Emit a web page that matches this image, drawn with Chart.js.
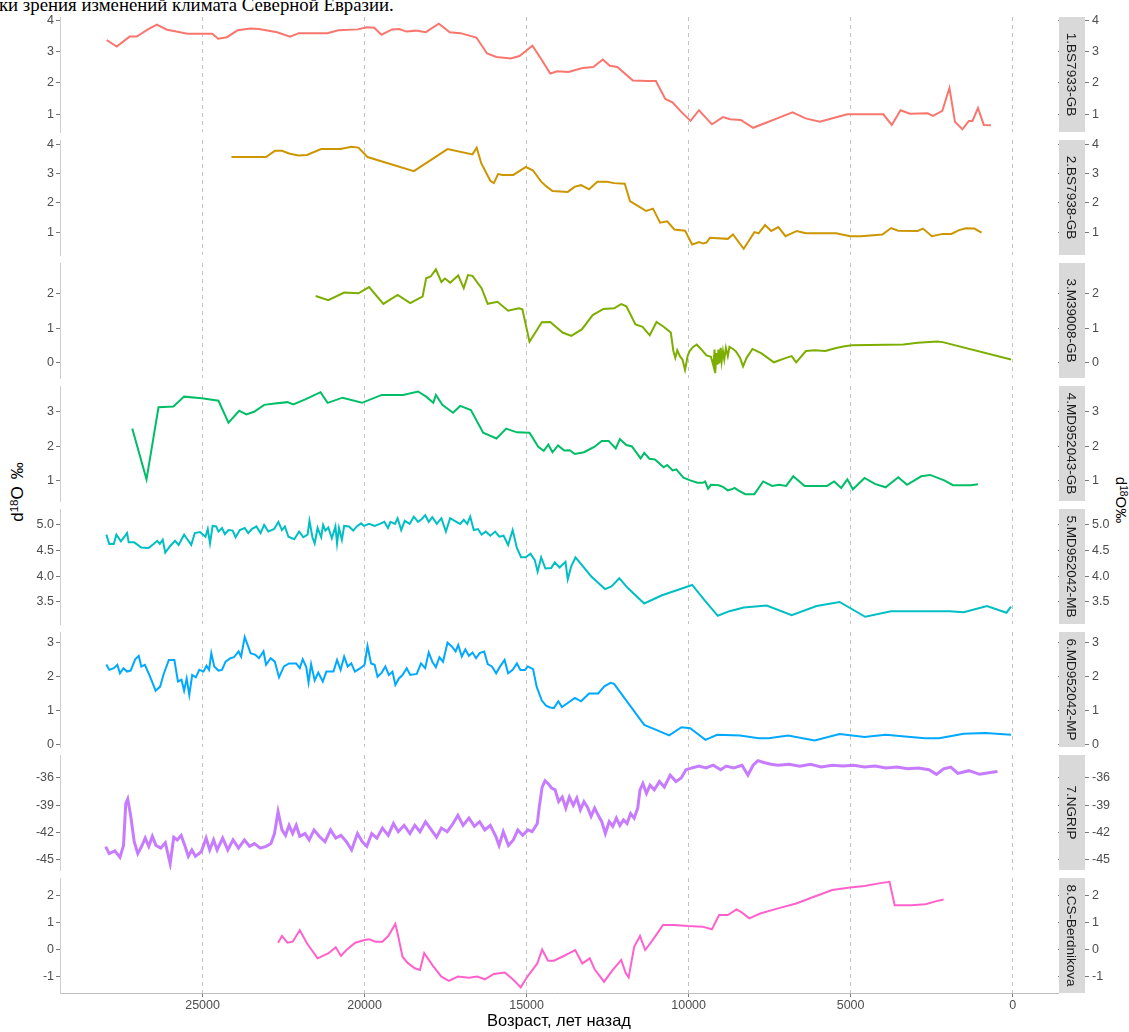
<!DOCTYPE html>
<html>
<head>
<meta charset="utf-8">
<script src="https://cdn.jsdelivr.net/npm/chart.js@4.4.1/dist/chart.umd.min.js"></script>
<style>
  html, body { margin: 0; padding: 0; background: #fff; }
  body { width: 1129px; height: 1032px; overflow: hidden; position: relative; }
  canvas.panel { position: absolute; left: 0; }
  #caption {
    position: absolute; left: -1px; top: -4px;
    font-family: "Liberation Serif", "Times New Roman", serif;
    font-size: 18.8px; line-height: 18.8px; white-space: nowrap; color: #000;
  }
  .ytitle {
    position: absolute; white-space: nowrap; color: #000;
    font-family: "Liberation Sans", Arial, sans-serif; line-height: 1;
  }
  .ytitle sup { font-size: 0.68em; vertical-align: 0.42em; line-height: 0; }
  #ytl { font-size: 17px; left: 17px; top: 492px; transform: translate(-50%, -50%) rotate(-90deg); }
  #ytl .gap { display: inline-block; width: 7px; }
  #ytr { font-size: 15px; left: 1121px; top: 500px; transform: translate(-50%, -50%) rotate(90deg); }
</style>
</head>
<body>
<div id="caption">ки зрения изменений климата Северной Евразии.</div>
<div class="ytitle" id="ytl">d<sup>18</sup>O<span class="gap"></span>‰</div>
<div class="ytitle" id="ytr">d<sup>18</sup>O‰</div>

<script>
// ---- Records: age (years before present) and d18O (‰) ----
const bs7933Age = [27960,27650,27250,27030,26700,26410,26100,25810,25470,24700,24520,24250,23920,23520,23260,22700,22300,22030,21150,20810,20210,19930,19700,19480,19150,18930,18710,18420,18110,17710,17370,17040,16550,16220,15930,15490,15220,14820,14560,14270,14050,13710,13270,12940,12650,12430,12200,11720,11270,11010,10720,10500,10210,9940,9680,9280,8940,8720,8390,8010,7610,7170,6790,6390,5950,5500,5100,3990,3730,3460,3170,2620,2460,2170,1950,1780,1550,1350,1240,1070,890,670];
const bs7933Val = [3.37,3.16,3.48,3.48,3.70,3.86,3.70,3.64,3.57,3.57,3.41,3.46,3.68,3.74,3.72,3.62,3.48,3.59,3.59,3.68,3.71,3.78,3.76,3.54,3.71,3.72,3.64,3.67,3.62,3.89,3.62,3.59,3.45,2.94,2.83,2.78,2.86,3.19,2.78,2.30,2.37,2.35,2.48,2.51,2.75,2.55,2.51,2.08,2.06,2.06,1.49,1.38,1.06,0.79,1.13,0.68,0.91,0.84,0.82,0.57,0.73,0.91,1.06,0.87,0.76,0.89,1.00,1.00,0.66,1.13,1.02,1.03,0.95,1.11,1.84,0.76,0.52,0.79,0.79,1.20,0.66,0.65];

const bs7938Age = [24110,23040,22770,22550,22330,22050,21780,21340,20740,20410,20190,19910,18480,17440,16670,16540,16400,16120,16010,15880,15740,15410,15020,14800,14550,14380,14200,13730,13510,13320,13070,12820,12520,12300,11970,11810,11530,11310,11100,10880,10660,10440,10110,9890,9670,9560,9450,9340,8790,8630,8300,7970,7840,7640,7450,7230,7010,6660,6380,5450,5010,4680,4020,3750,3530,2930,2770,2490,2160,1890,1670,1450,1180,960];
const bs7938Val = [3.56,3.56,3.77,3.77,3.68,3.61,3.63,3.83,3.83,3.91,3.88,3.56,3.08,3.83,3.65,3.88,3.35,2.75,2.67,2.98,2.95,2.95,3.22,3.10,2.72,2.55,2.40,2.37,2.55,2.60,2.46,2.72,2.72,2.67,2.65,2.06,1.87,1.72,1.80,1.32,1.37,1.09,1.05,0.58,0.66,0.61,0.64,0.81,0.77,0.92,0.43,1.00,0.96,1.24,1.04,1.17,0.86,1.04,0.96,0.96,0.86,0.86,0.92,1.14,1.05,1.04,1.12,0.86,0.94,0.94,1.06,1.13,1.12,0.98];

const m39008Age = [21510,21120,20630,20190,19860,19420,18980,18590,18320,18210,18100,17960,17800,17630,17520,17360,17110,16940,16810,16670,16390,16200,15900,15570,15240,15130,14910,14530,14270,13890,13620,13290,12960,12630,12300,12080,11920,11640,11420,11200,10990,10770,10550,10470,10410,10350,10270,10190,10110,10030,9970,9860,9750,9620,9450,9310,9230,9200,9180,9140,9110,9080,9050,9010,8980,8940,8900,8850,8790,8740,8630,8540,8410,8320,8210,8030,7750,7370,6990,6820,6680,6380,6110,5780,5450,5180,4960,3370,2930,2330,2160,50];
const m39008Val = [1.94,1.82,2.04,2.02,2.20,1.71,1.97,1.73,1.87,1.92,2.46,2.51,2.72,2.35,2.45,2.33,2.54,2.17,2.55,2.53,2.17,1.71,1.77,1.51,1.58,1.55,0.60,1.17,1.18,0.87,0.77,0.97,1.38,1.56,1.58,1.70,1.64,1.11,1.04,0.79,1.18,1.04,0.87,0.33,0.13,0.35,0.18,0.08,-0.22,0.18,0.33,0.45,0.52,0.39,0.20,0.16,-0.12,0.37,-0.32,0.27,-0.07,0.37,-0.03,0.42,0.03,0.32,0.08,0.42,0.18,0.45,0.39,0.32,0.13,-0.12,0.13,0.39,0.26,0.00,0.13,0.18,0.00,0.33,0.35,0.33,0.42,0.47,0.50,0.52,0.57,0.61,0.59,0.08];

const md952043Age = [27170,26730,26360,25900,25570,25020,24510,24200,23870,23650,23410,23100,22770,22380,22200,21830,21360,21140,20680,20080,19470,18810,18350,18100,17880,17800,17600,17270,17050,16720,16340,15930,15630,15300,14910,14640,14470,14330,14200,14030,13840,13670,13510,13230,12900,12680,12470,12250,12120,11920,11750,11480,11370,11210,11040,10770,10660,10490,10380,10160,9950,9730,9560,9490,9400,9310,9070,8940,8790,8680,8580,8470,8250,7970,7700,7420,7210,6990,6770,6420,5730,5510,5290,5100,4930,4570,4250,3920,3530,3260,2820,2550,2110,1840,1290,1070];
const md952043Val = [2.51,1.03,3.13,3.15,3.44,3.39,3.32,2.68,3.03,2.92,3.00,3.20,3.24,3.28,3.21,3.36,3.57,3.26,3.41,3.26,3.49,3.49,3.59,3.44,3.26,3.49,3.20,2.97,3.17,3.05,2.39,2.22,2.51,2.40,2.39,1.98,1.86,2.04,1.82,2.02,1.87,1.88,1.77,1.82,1.98,2.15,2.15,1.93,2.20,2.03,1.99,1.64,1.80,1.63,1.61,1.38,1.45,1.29,1.32,1.08,1.00,0.93,0.93,0.97,0.76,0.87,0.86,0.81,0.71,0.74,0.78,0.71,0.60,0.60,0.97,0.84,0.87,0.84,1.12,0.84,0.84,0.97,0.78,1.03,0.74,1.07,0.90,0.80,1.09,0.87,1.12,1.16,1.00,0.86,0.86,0.89];

const md952042mbAge = [27970,27880,27740,27660,27520,27410,27330,27280,27110,26890,26670,26510,26400,26320,26230,26150,26010,25850,25740,25570,25460,25350,25240,25080,24910,24840,24770,24690,24580,24510,24400,24310,24200,24070,23980,23850,23700,23590,23480,23340,23210,23100,22970,22790,22660,22550,22460,22350,22170,22020,21890,21760,21700,21610,21540,21450,21340,21280,21210,21120,21010,20900,20850,20790,20700,20630,20480,20350,20240,20110,20020,19860,19690,19530,19390,19280,19200,19060,18980,18870,18760,18610,18480,18350,18240,18130,18020,17910,17770,17630,17490,17360,17220,17050,16940,16830,16740,16630,16500,16390,16260,16120,15970,15840,15710,15570,15430,15300,15170,15030,14880,14750,14660,14550,14420,14240,14130,13980,13800,13730,13620,13490,13010,12580,12380,12140,11860,11370,10820,9890,9530,9100,8740,8300,7590,6820,6050,5340,4550,3750,1950,1510,790,190,50];
const md952042mbVal = [4.81,4.63,4.63,4.81,4.68,4.77,4.84,4.66,4.66,4.56,4.55,4.63,4.69,4.63,4.71,4.46,4.58,4.69,4.61,4.81,4.71,4.61,4.84,4.86,4.77,4.92,4.64,4.98,4.97,4.87,4.94,4.82,4.90,4.89,4.76,4.90,4.94,4.84,4.92,4.97,4.84,5.00,4.87,4.92,5.06,4.90,4.97,4.77,4.72,4.87,4.76,4.81,5.08,4.76,4.64,4.94,4.76,5.00,4.89,4.95,4.74,4.97,4.64,4.94,4.71,4.98,4.97,4.89,4.97,5.03,4.98,5.02,4.98,5.02,5.06,4.94,5.06,5.02,5.13,4.90,5.08,5.02,5.16,5.06,5.11,5.19,5.06,5.15,5.02,5.13,4.87,5.13,5.08,5.02,5.10,5.02,5.16,4.90,4.92,4.81,4.87,4.79,4.87,4.77,4.79,4.61,4.90,4.55,4.37,4.37,4.44,4.32,4.09,4.37,4.15,4.16,4.27,4.17,4.28,3.94,4.20,4.37,4.00,3.75,3.80,3.96,3.76,3.47,3.63,3.83,3.55,3.23,3.32,3.39,3.43,3.24,3.42,3.50,3.21,3.32,3.32,3.30,3.42,3.29,3.41];

const md952042mpAge = [27970,27880,27740,27630,27550,27440,27330,27220,27080,26970,26890,26780,26620,26450,26310,26200,26040,25870,25760,25650,25570,25490,25410,25320,25210,25100,24970,24880,24800,24730,24640,24510,24400,24290,24140,24030,23890,23810,23700,23590,23520,23370,23260,23120,23040,22900,22770,22640,22490,22330,22110,22000,21910,21800,21730,21650,21540,21430,21290,21180,20960,20850,20740,20630,20520,20410,20300,20130,20000,19910,19800,19690,19600,19470,19360,19250,19140,19050,18940,18830,18700,18590,18390,18260,18130,18020,17910,17800,17690,17580,17440,17300,17190,17110,17000,16890,16780,16670,16560,16450,16310,16200,16070,15940,15830,15680,15570,15430,15300,15190,15050,14960,14800,14690,14530,14400,14270,14160,14020,13910,13730,13510,13320,13070,12790,12600,12410,12300,11370,11000,10600,10220,9950,9480,9120,8410,7840,7530,6930,6110,5340,4570,3920,2710,2270,1510,850,50];
const md952042mpVal = [2.36,2.20,2.25,2.35,2.10,2.25,2.15,2.18,2.51,2.61,2.30,2.35,2.00,1.59,1.71,2.08,2.49,2.49,1.86,1.91,1.59,1.95,1.47,2.05,1.98,2.20,2.15,2.32,2.20,2.69,2.30,2.18,2.20,2.44,2.54,2.57,2.74,2.59,3.16,2.88,2.69,2.64,2.54,2.74,2.35,2.54,2.44,1.98,2.30,2.39,2.39,2.25,2.51,2.28,1.83,2.37,1.89,2.12,1.86,2.15,2.15,2.49,2.20,2.59,2.30,2.39,2.15,2.25,2.35,2.90,2.39,2.35,2.00,2.12,2.30,2.05,2.15,1.76,1.95,2.05,2.25,2.05,2.08,2.39,2.25,2.71,2.44,2.28,2.57,2.44,3.00,2.88,2.74,2.93,2.59,2.80,2.61,2.71,2.54,2.69,2.74,2.37,2.30,2.10,2.28,2.49,2.10,2.20,2.39,2.20,2.20,2.30,2.22,1.71,1.30,1.15,1.10,1.08,1.28,1.11,1.23,1.38,1.28,1.51,1.51,1.72,1.82,1.79,0.59,0.44,0.28,0.52,0.49,0.15,0.30,0.28,0.20,0.20,0.28,0.13,0.32,0.23,0.30,0.20,0.20,0.33,0.35,0.30];

const ngripAge = [27990,27880,27710,27550,27440,27370,27310,27220,27110,27000,26880,26770,26660,26550,26440,26290,26150,26000,25890,25780,25660,25550,25440,25330,25220,25040,24890,24780,24660,24550,24380,24220,24060,23890,23710,23550,23400,23220,23040,22890,22780,22670,22550,22440,22330,22220,22110,22000,21840,21710,21560,21400,21220,21050,20890,20730,20560,20400,20220,20070,19930,19780,19620,19450,19270,19110,18960,18780,18600,18450,18290,18120,17940,17780,17630,17450,17270,17120,16960,16780,16610,16450,16290,16120,15940,15850,15720,15560,15410,15270,15120,14960,14830,14670,14610,14520,14430,14340,14230,14120,14010,13900,13790,13680,13560,13450,13340,13230,13120,13010,12900,12790,12680,12570,12450,12340,12230,12120,12010,11900,11790,11680,11570,11500,11410,11300,11190,11060,10900,10750,10570,10390,10230,10080,9900,9680,9460,9240,9010,8840,8610,8350,8170,8010,7860,7680,7460,7240,6900,6570,6240,5910,5570,5240,4910,4570,4240,3910,3570,3240,2910,2580,2350,2130,1910,1690,1350,1020,690,470];
const ngripVal = [-43.55,-44.3,-44.0,-44.7,-43.4,-38.8,-38.3,-40.1,-43.0,-44.3,-43.5,-42.6,-43.5,-42.4,-43.4,-43.7,-43.1,-45.4,-42.5,-42.8,-42.3,-43.4,-44.6,-43.9,-44.6,-44.1,-42.6,-43.9,-42.8,-43.9,-42.6,-43.9,-42.8,-43.7,-42.8,-43.5,-43.2,-43.7,-43.5,-43.2,-42.1,-39.7,-41.7,-42.3,-41.2,-42.1,-41.2,-42.4,-42.1,-42.8,-41.7,-42.4,-43.0,-41.7,-42.6,-42.3,-43.0,-43.9,-42.1,-43.0,-43.5,-42.1,-42.6,-41.5,-42.3,-41.0,-41.9,-41.2,-42.1,-41.2,-41.9,-40.8,-41.7,-42.5,-41.5,-41.9,-41.0,-40.1,-41.2,-40.4,-41.3,-40.8,-41.7,-41.2,-42.5,-43.4,-41.9,-43.4,-42.8,-41.7,-42.3,-41.7,-41.9,-41.0,-39.2,-37.0,-36.3,-36.6,-37.1,-37.3,-38.6,-38.1,-39.3,-38.1,-39.0,-38.2,-39.5,-38.6,-39.2,-40.2,-39.3,-40.1,-40.8,-42.1,-40.8,-41.3,-40.4,-41.2,-40.6,-41.0,-39.9,-40.4,-39.3,-37.3,-36.6,-37.7,-36.8,-37.3,-36.4,-37.0,-35.7,-36.4,-36.0,-35.1,-34.9,-34.7,-34.9,-34.6,-35.1,-34.7,-34.9,-34.6,-35.7,-34.6,-34.1,-34.3,-34.5,-34.6,-34.5,-34.7,-34.5,-34.8,-34.6,-34.7,-34.6,-34.8,-34.7,-34.9,-34.8,-35.0,-34.9,-35.1,-35.6,-35.0,-34.8,-35.5,-35.2,-35.6,-35.4,-35.3];

const berdnikovaAge = [22670,22550,22380,22220,22000,21780,21450,21110,20890,20730,20560,20290,20000,19850,19670,19450,19270,19050,18960,18830,18670,18450,18290,18160,17890,17630,17400,17120,16780,16520,16290,16010,15670,15410,15180,15010,14670,14520,14340,14160,13900,13680,13500,13280,13050,12900,12610,12340,12080,11940,11850,11680,11500,11340,11120,10790,10460,10010,9570,9280,9060,8790,8520,8350,8130,7790,7240,6680,6130,5570,5020,4570,4130,3800,3640,3130,2690,2350,2130];
const berdnikovaVal = [0.25,0.50,0.25,0.29,0.72,0.23,-0.33,-0.14,0.08,-0.24,-0.02,0.25,0.35,0.38,0.29,0.29,0.50,0.95,0.48,-0.27,-0.50,-0.70,-0.76,-0.14,-0.61,-1.01,-1.17,-1.01,-1.05,-1.01,-1.11,-0.91,-0.86,-1.13,-1.41,-1.07,-0.52,0.00,-0.42,-0.42,-0.27,-0.14,-0.02,-0.52,-0.33,-0.74,-1.20,-0.76,-0.39,-0.88,-1.04,0.10,0.50,-0.02,0.33,0.91,0.91,0.87,0.85,0.75,1.28,1.28,1.49,1.37,1.16,1.34,1.53,1.71,1.96,2.21,2.31,2.36,2.46,2.52,1.65,1.65,1.68,1.80,1.86];

// ---- Facet names, colours and axis ticks ----
const facetNames = ['1.BS7933-GB','2.BS7938-GB','3.M39008-GB','4.MD952043-GB','5.MD952042-MB','6.MD952042-MP','7.NGRIP','8.CS-Berdnikova'];
const facetColors = ['#F8766D','#CD9600','#7CAE00','#00BE67','#00BFC4','#00A9FF','#C77CFF','#FF61CC'];
const ageTickLabels = ['0','5000','10000','15000','20000','25000'];
const yTickLabels = [
  ['1','2','3','4'],
  ['1','2','3','4'],
  ['0','1','2'],
  ['1','2','3'],
  ['3.5','4.0','4.5','5.0'],
  ['0','1','2','3'],
  ['-45','-42','-39','-36'],
  ['-1','0','1','2']
];
const yLimits = [
  [0.435, 4.105], [0.22, 4.14], [-0.46, 2.905], [0.40, 3.75],
  [3.07, 5.31], [-0.06, 3.31], [-46.1, -33.48], [-1.62, 2.66]
];
const ageLimits = [-1400, 29400];

const seriesAges = [bs7933Age, bs7938Age, m39008Age, md952043Age, md952042mbAge, md952042mpAge, ngripAge, berdnikovaAge];
const seriesVals = [bs7933Val, bs7938Val, m39008Val, md952043Val, md952042mbVal, md952042mpVal, ngripVal, berdnikovaVal];

// ---- Layout ----
const PAGE_W = 1129;
const PAGE_H = 1032;
const PANEL_TOPS = [17, 140, 263, 386, 509, 632, 755, 878];
const PANEL_H = 115;
const PAD = 5;
const AXIS_LEFT_W = 60;
const AXIS_RIGHT_W = PAGE_W - 1058;
const X_AXIS_H = PAGE_H - (PANEL_TOPS[7] + PANEL_H);
const STRIP_W = 26;
const FONT = '"Liberation Sans", Arial, sans-serif';
const TICK_TEXT = '#4D4D4D';
const TICK_MARK = '#7A7A7A';
const GRID = '#C4C4C4';

const stripPlugin = {
  id: 'facetStrip',
  afterDraw(chart, args, opts) {
    const { ctx, chartArea: a } = chart;
    ctx.save();
    ctx.fillStyle = '#D9D9D9';
    ctx.fillRect(a.right + 1, a.top, STRIP_W, a.bottom - a.top);
    ctx.translate(a.right + 1 + STRIP_W / 2, (a.top + a.bottom) / 2);
    ctx.rotate(Math.PI / 2);
    ctx.fillStyle = '#1A1A1A';
    ctx.font = '13.5px ' + FONT;
    ctx.textAlign = 'center';
    ctx.textBaseline = 'middle';
    ctx.fillText(opts.label, 0, 1);
    ctx.restore();
  }
};

const noPad = s => { s.paddingTop = 0; s.paddingBottom = 0; s.paddingLeft = 0; s.paddingRight = 0; };

facetNames.forEach((name, i) => {
  const isLast = i === facetNames.length - 1;
  const canvas = document.createElement('canvas');
  canvas.className = 'panel';
  const top = PANEL_TOPS[i] - PAD;
  const height = isLast ? PAGE_H - top : PANEL_H + 2 * PAD;
  canvas.width = PAGE_W;
  canvas.height = height;
  canvas.style.top = top + 'px';
  canvas.style.width = PAGE_W + 'px';
  canvas.style.height = height + 'px';
  document.body.appendChild(canvas);

  const ages = seriesAges[i];
  const vals = seriesVals[i];
  const n = Math.min(ages.length, vals.length);
  const points = [];
  for (let k = 0; k < n; k++) points.push({ x: ages[k], y: vals[k] });

  const labels = yTickLabels[i];
  const yTickVals = labels.map(Number);
  const setYTicks = s => { s.ticks = yTickVals.map(v => ({ value: v })); };
  const yLabel = (v, idx) => labels[idx];

  new Chart(canvas, {
    type: 'line',
    data: {
      datasets: [{
        data: points,
        borderColor: facetColors[i],
        borderWidth: i === 6 ? 3 : 2,
        pointRadius: 0,
        tension: 0,
        fill: false
      }]
    },
    options: {
      responsive: false,
      animation: false,
      devicePixelRatio: 1,
      layout: { padding: { top: PAD, bottom: isLast ? 0 : PAD, left: 0, right: 0 } },
      plugins: {
        legend: { display: false },
        tooltip: { enabled: false },
        facetStrip: { label: name }
      },
      scales: {
        x: {
          type: 'linear',
          reverse: true,
          min: ageLimits[0],
          max: ageLimits[1],
          afterBuildTicks: s => { s.ticks = ageTickLabels.map(t => ({ value: Number(t) })); },
          afterFit: s => { noPad(s); s.height = isLast ? X_AXIS_H : 0; },
          grid: {
            color: GRID, lineWidth: 1, drawTicks: isLast, tickLength: 4,
            tickColor: TICK_MARK, borderDash: [4, 4]
          },
          border: { display: isLast, color: '#BDBDBD', width: 1, dash: [4, 4] },
          ticks: {
            display: isLast, color: TICK_TEXT, padding: 1,
            font: { family: FONT, size: 12.5 },
            maxRotation: 0,
            callback: (v, idx) => ageTickLabels[idx]
          },
          title: {
            display: isLast, text: 'Возраст, лет назад', color: '#000',
            font: { family: FONT, size: 16.5 }, padding: { top: 2, bottom: 1 }
          }
        },
        y: {
          type: 'linear', position: 'left',
          min: yLimits[i][0], max: yLimits[i][1],
          afterBuildTicks: setYTicks,
          afterFit: s => { noPad(s); s.width = AXIS_LEFT_W; },
          grid: { drawOnChartArea: false, drawTicks: true, tickLength: 4, tickColor: TICK_MARK },
          border: { display: true, color: '#CFCFCF', width: 1 },
          ticks: { color: TICK_TEXT, padding: 2, font: { family: FONT, size: 12.5 }, callback: yLabel }
        },
        y2: {
          type: 'linear', position: 'right',
          min: yLimits[i][0], max: yLimits[i][1],
          afterBuildTicks: setYTicks,
          afterFit: s => { noPad(s); s.width = AXIS_RIGHT_W; },
          grid: { drawOnChartArea: false, drawTicks: true, tickLength: STRIP_W + 5, tickColor: TICK_MARK },
          border: { display: false },
          ticks: { color: TICK_TEXT, padding: 3, font: { family: FONT, size: 12.5 }, callback: yLabel }
        }
      }
    },
    plugins: [stripPlugin]
  });
});
</script>
</body>
</html>
